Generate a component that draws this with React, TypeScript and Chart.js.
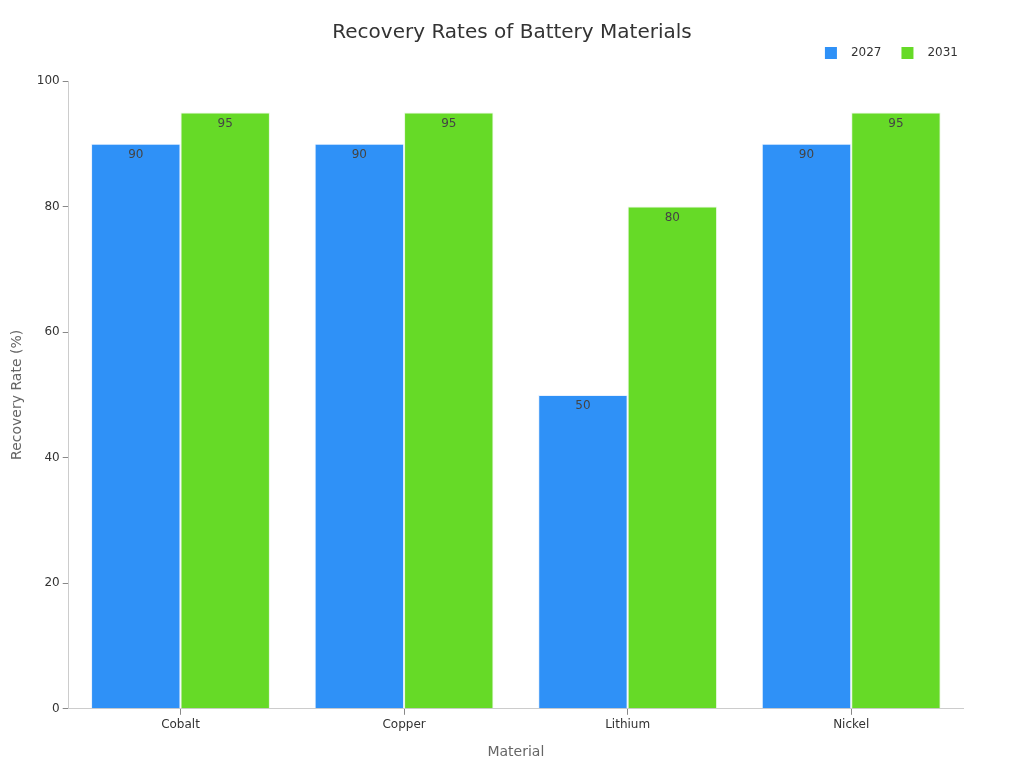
import React, { useEffect, useRef } from 'react';
import { Chart, registerables, Plugin } from 'chart.js';

Chart.register(...registerables);

const materials = ['Cobalt', 'Copper', 'Lithium', 'Nickel'];
const years = ['2027', '2031'];
const rates2027 = [90, 90, 50, 90];
const rates2031 = [95, 95, 80, 95];
const yTicks = [0, 20, 40, 60, 80, 100];
const colors = ['#2f91f7', '#66da27'];

const FONT = "'DejaVu Sans', sans-serif";
const TITLE = 'Recovery Rates of Battery Materials';

// values drawn just inside the top of each bar
const barLabels: Plugin<'bar'> = {
  id: 'barLabels',
  afterDatasetsDraw(chart) {
    const ctx = chart.ctx;
    ctx.save();
    ctx.font = `12px ${FONT}`;
    ctx.fillStyle = '#444';
    ctx.textAlign = 'center';
    ctx.textBaseline = 'top';
    chart.data.datasets.forEach((ds, i) => {
      const meta = chart.getDatasetMeta(i);
      meta.data.forEach((bar: any, j) => {
        ctx.fillText(String(ds.data[j]), bar.x, bar.y + 5);
      });
    });
    ctx.restore();
  },
};

// title centred on the canvas, legend at top right
const header: Plugin<'bar'> = {
  id: 'header',
  afterDraw(chart) {
    const ctx = chart.ctx;
    ctx.save();
    ctx.fillStyle = '#333';
    ctx.font = `20px ${FONT}`;
    ctx.textAlign = 'center';
    ctx.textBaseline = 'middle';
    ctx.fillText(TITLE, chart.width / 2, 33);

    ctx.font = `12px ${FONT}`;
    ctx.textAlign = 'left';
    const box = 12;
    const gap = 14;
    const spacing = 20;
    const items = chart.data.datasets.map((ds) => ({
      text: String(ds.label),
      color: String(ds.backgroundColor),
      w: box + gap + ctx.measureText(String(ds.label)).width,
    }));
    const total = items.reduce((s, it) => s + it.w, 0) + spacing * (items.length - 1);
    let x = chart.chartArea.right - 5 - total;
    const y = 53;
    items.forEach((it) => {
      ctx.fillStyle = it.color;
      ctx.fillRect(x, y - box / 2, box, box);
      ctx.fillStyle = '#333';
      ctx.fillText(it.text, x + box + gap, y);
      x += it.w + spacing;
    });
    ctx.restore();
  },
};

const App: React.FC = () => {
  const canvasRef = useRef<HTMLCanvasElement>(null);

  useEffect(() => {
    document.body.style.margin = '0';
    if (!canvasRef.current) return;
    const chart = new Chart(canvasRef.current, {
      type: 'bar',
      data: {
        labels: materials,
        datasets: [
          {
            label: years[0],
            data: rates2027,
            backgroundColor: colors[0],
            borderColor: '#e8f2ff',
            borderWidth: 1,
          },
          {
            label: years[1],
            data: rates2031,
            backgroundColor: colors[1],
            borderColor: '#e8f8e0',
            borderWidth: 1,
          },
        ],
      },
      options: {
        animation: false,
        responsive: false,
        maintainAspectRatio: false,
        layout: { padding: { left: 5, right: 61, top: 81, bottom: 3 } },
        datasets: { bar: { categoryPercentage: 0.8, barPercentage: 1 } },
        plugins: {
          title: { display: false },
          legend: { display: false },
          tooltip: { enabled: false },
        },
        scales: {
          x: {
            grid: { drawOnChartArea: false, drawTicks: true, tickLength: 6, offset: false, color: '#888' },
            border: { color: '#ccc' },
            ticks: { color: '#333', font: { family: FONT, size: 12 } },
            title: {
              display: true,
              text: 'Material',
              color: '#666',
              font: { family: FONT, size: 14 },
              padding: { top: 9 },
            },
          },
          y: {
            min: 0,
            max: 100,
            afterBuildTicks: (axis) => {
              axis.ticks = yTicks.map((v) => ({ value: v }));
            },
            grid: { drawOnChartArea: false, drawTicks: true, tickLength: 6, color: '#888' },
            border: { color: '#ccc' },
            ticks: { color: '#333', font: { family: FONT, size: 12 }, padding: 3 },
            title: {
              display: true,
              text: 'Recovery Rate (%)',
              color: '#666',
              font: { family: FONT, size: 14 },
              padding: { bottom: 8 },
            },
          },
        },
      },
      plugins: [barLabels, header],
    });
    return () => chart.destroy();
  }, []);

  return (
    <div style={{ width: 1024, height: 768 }}>
      <canvas ref={canvasRef} width={1024} height={768}></canvas>
    </div>
  );
};

export default App;
